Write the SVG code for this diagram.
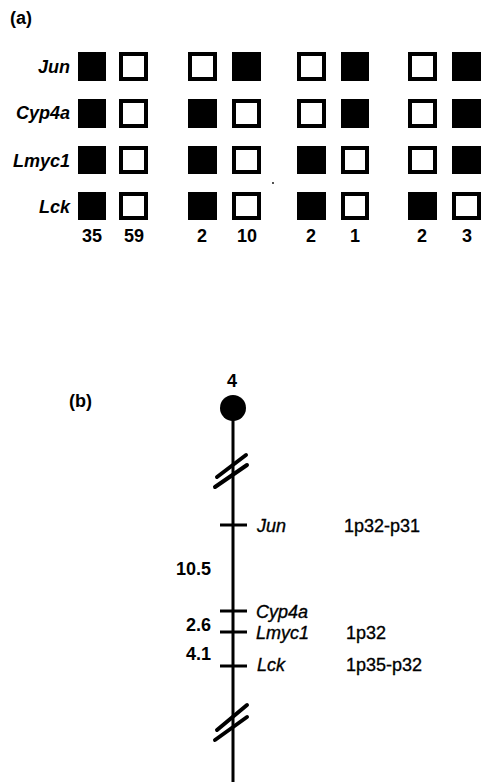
<svg xmlns="http://www.w3.org/2000/svg" width="481" height="782" viewBox="0 0 481 782">
<style>
.f{fill:#000}
.o{fill:#fff;stroke:#000;stroke-width:4}
.t{font-family:"Liberation Sans",Arial,sans-serif;font-size:18px;fill:#000}
.b{font-weight:bold}
.i{font-style:italic}
.m{stroke:#000;stroke-width:0.35}
.ln{stroke:#000;stroke-width:3;fill:none}
.br{stroke:#000;stroke-width:4;fill:none;stroke-linecap:round}
</style>
<rect width="481" height="782" fill="#fff"/>
<text class="t b" x="10" y="24" font-size="17">(a)</text>
<g id="gene-labels-a" class="t b i" text-anchor="end">
<text x="70" y="73">Jun</text>
<text x="70" y="119">Cyp4a</text>
<text x="70" y="167">Lmyc1</text>
<text x="70" y="213">Lck</text>
</g>
<g id="col1"><rect class="f" x="78" y="52" width="28" height="29"/><rect class="f" x="78" y="99" width="28" height="29"/><rect class="f" x="78" y="146" width="28" height="28"/><rect class="f" x="78" y="192" width="28" height="28"/></g>
<g id="col2"><rect class="o" x="121" y="54" width="25" height="25"/><rect class="o" x="121" y="101" width="25" height="25"/><rect class="o" x="121" y="148" width="25" height="24"/><rect class="o" x="121" y="194" width="25" height="24"/></g>
<g id="col3"><rect class="o" x="190" y="54" width="25" height="25"/><rect class="f" x="188" y="99" width="29" height="29"/><rect class="f" x="188" y="146" width="29" height="28"/><rect class="f" x="188" y="192" width="29" height="28"/></g>
<g id="col4"><rect class="f" x="232" y="52" width="29" height="29"/><rect class="o" x="234" y="101" width="25" height="25"/><rect class="o" x="234" y="148" width="25" height="24"/><rect class="o" x="234" y="194" width="25" height="24"/></g>
<g id="col5"><rect class="o" x="299" y="54" width="25" height="25"/><rect class="o" x="299" y="101" width="25" height="25"/><rect class="f" x="297" y="146" width="29" height="28"/><rect class="f" x="297" y="192" width="29" height="28"/></g>
<g id="col6"><rect class="f" x="341" y="52" width="28" height="29"/><rect class="f" x="341" y="99" width="28" height="29"/><rect class="o" x="343" y="148" width="24" height="24"/><rect class="o" x="343" y="194" width="24" height="24"/></g>
<g id="col7"><rect class="o" x="410" y="54" width="25" height="25"/><rect class="o" x="410" y="101" width="25" height="25"/><rect class="o" x="410" y="148" width="25" height="24"/><rect class="f" x="408" y="192" width="29" height="28"/></g>
<g id="col8"><rect class="f" x="452" y="52" width="29" height="29"/><rect class="f" x="452" y="99" width="29" height="29"/><rect class="f" x="452" y="146" width="29" height="28"/><rect class="o" x="454" y="194" width="25" height="24"/></g>
<g id="counts" class="t b" text-anchor="middle">
<text x="92" y="242">35</text>
<text x="134" y="242">59</text>
<text x="202" y="242">2</text>
<text x="247" y="242">10</text>
<text x="311" y="242">2</text>
<text x="355" y="242">1</text>
<text x="422" y="242">2</text>
<text x="467" y="242">3</text>
</g>
<circle cx="273" cy="183" r="0.9" fill="#000"/>
<text class="t b" x="69" y="407" font-size="17">(b)</text>
<text class="t b" x="232" y="387" text-anchor="middle" font-size="15">4</text>
<g id="chromosome">
<circle cx="233" cy="408" r="13" fill="#000"/>
<line class="ln" x1="233" y1="408" x2="233" y2="782"/>
</g>
<g id="connectors">
<line class="br" x1="217" y1="477" x2="246" y2="455"/>
<line class="br" x1="215" y1="487" x2="247" y2="465"/>
<line class="br" x1="217" y1="730" x2="247" y2="705"/>
<line class="br" x1="215" y1="740" x2="247" y2="717"/>
<line class="ln" x1="220" y1="525" x2="247" y2="525"/>
<line class="ln" x1="220" y1="611" x2="247" y2="611"/>
<line class="ln" x1="220" y1="632" x2="247" y2="632"/>
<line class="ln" x1="220" y1="666" x2="247" y2="666"/>
</g>
<g id="loci" class="t i m" font-size="19">
<text x="257" y="532">Jun</text>
<text x="256" y="618">Cyp4a</text>
<text x="256" y="639">Lmyc1</text>
<text x="257" y="671">Lck</text>
</g>
<g id="bands" class="t m" font-size="19">
<text x="344" y="532">1p32-p31</text>
<text x="346" y="639">1p32</text>
<text x="346" y="671">1p35-p32</text>
</g>
<g id="distances" class="t b" text-anchor="end" font-size="16">
<text x="211" y="575">10.5</text>
<text x="211" y="631">2.6</text>
<text x="211" y="660">4.1</text>
</g>
</svg>
